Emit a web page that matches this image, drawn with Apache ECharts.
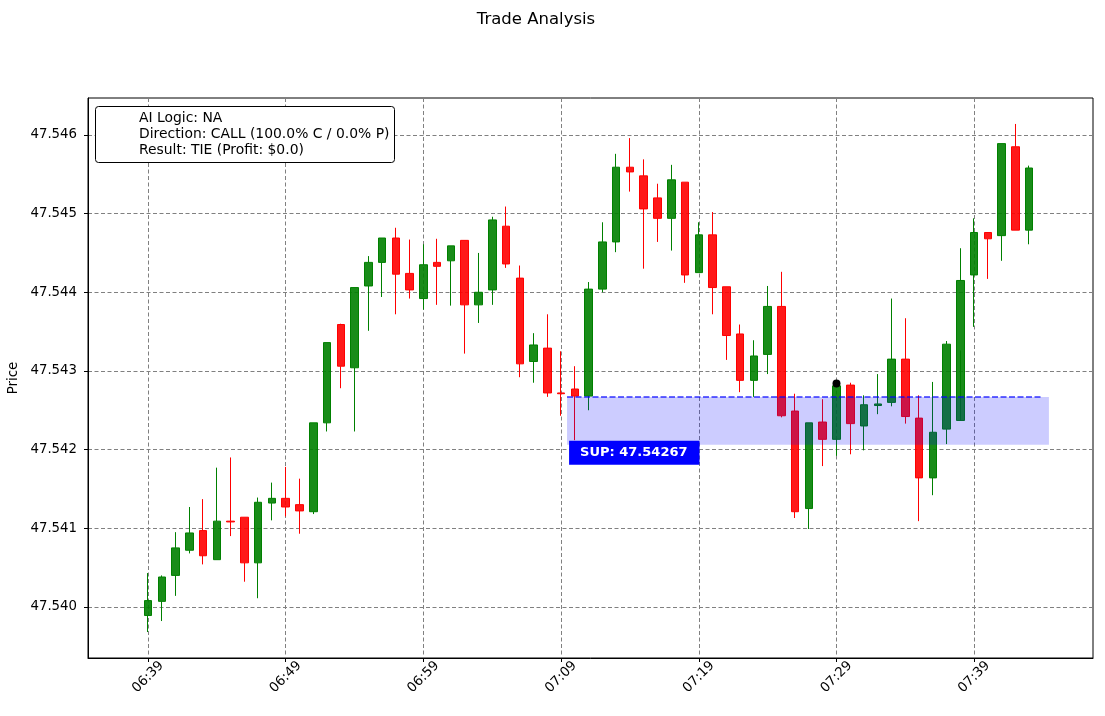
<!DOCTYPE html>
<html><head><meta charset="utf-8">
<script src="https://cdn.jsdelivr.net/npm/echarts@6/dist/echarts.min.js"></script>
<style>html,body{margin:0;padding:0;background:#fff}#c{width:1105px;height:716px}</style>
</head><body><div id="c"></div>
<script>
const startMinute = 6*60+39;
const opens  = [47.53989,47.54007,47.54040,47.54072,47.54097,47.54060,47.54109,47.54114,47.54056,47.54132,47.54138,47.54130,47.54121,47.54234,47.54359,47.54304,47.54408,47.54438,47.54469,47.54424,47.54392,47.54438,47.54440,47.54466,47.54384,47.54403,47.54484,47.54418,47.54312,47.54329,47.54272,47.54277,47.54268,47.54404,47.54464,47.54559,47.54548,47.54520,47.54494,47.54540,47.54425,47.54473,47.54407,47.54347,47.54288,47.54321,47.54382,47.54249,47.54125,47.54235,47.54213,47.54282,47.54230,47.54256,47.54260,47.54315,47.54240,47.54164,47.54226,47.54237,47.54422,47.54476,47.54472,47.54585,47.54479];
const closes = [47.54008,47.54038,47.54075,47.54094,47.54065,47.54109,47.54108,47.54056,47.54133,47.54138,47.54127,47.54122,47.54234,47.54336,47.54306,47.54406,47.54438,47.54469,47.54423,47.54403,47.54435,47.54433,47.54459,47.54384,47.54400,47.54492,47.54436,47.54309,47.54333,47.54272,47.54271,47.54268,47.54404,47.54464,47.54559,47.54553,47.54506,47.54494,47.54543,47.54422,47.54473,47.54406,47.54345,47.54288,47.54319,47.54382,47.54243,47.54121,47.54234,47.54213,47.54281,47.54233,47.54257,47.54258,47.54315,47.54242,47.54164,47.54222,47.54334,47.54415,47.54476,47.54468,47.54589,47.54479,47.54558];
const lows   = [47.53968,47.53982,47.54014,47.54068,47.54054,47.54060,47.54090,47.54032,47.54011,47.54110,47.54115,47.54093,47.54118,47.54223,47.54278,47.54223,47.54351,47.54394,47.54372,47.54392,47.54378,47.54384,47.54383,47.54322,47.54361,47.54384,47.54431,47.54292,47.54285,47.54267,47.54243,47.54212,47.54250,47.54400,47.54451,47.54528,47.54430,47.54464,47.54453,47.54412,47.54425,47.54372,47.54314,47.54273,47.54267,47.54296,47.54241,47.54113,47.54099,47.54179,47.54192,47.54194,47.54199,47.54245,47.54255,47.54233,47.54109,47.54142,47.54207,47.54326,47.54356,47.54417,47.54440,47.54479,47.54461];
const highs  = [47.54043,47.54040,47.54095,47.54127,47.54137,47.54177,47.54190,47.54114,47.54139,47.54158,47.54178,47.54163,47.54234,47.54336,47.54360,47.54406,47.54446,47.54469,47.54482,47.54467,47.54461,47.54468,47.54459,47.54466,47.54450,47.54496,47.54509,47.54434,47.54348,47.54372,47.54325,47.54306,47.54413,47.54489,47.54576,47.54596,47.54569,47.54538,47.54562,47.54540,47.54489,47.54502,47.54407,47.54359,47.54339,47.54408,47.54426,47.54271,47.54234,47.54264,47.54286,47.54285,47.54269,47.54296,47.54392,47.54367,47.54269,47.54286,47.54338,47.54456,47.54494,47.54476,47.54589,47.54614,47.54561];
const times = opens.map((_, i) => { const m = startMinute + i; return String(Math.floor(m/60)).padStart(2,'0') + ':' + String(m%60).padStart(2,'0'); });
const xTickIdx = [0,10,20,30,40,50,60];
const yTicks = [47.540,47.541,47.542,47.543,47.544,47.545,47.546];
const supLevel = 47.54267;
const zoneLow = 47.54206;
const zoneStart = 30.43, zoneEnd = 65.43, lineEnd = 65.0;
const entryIdx = 50, entryPrice = 47.54284;
const legendLines = ['AI Logic: NA','Direction: CALL (100.0% C / 0.0% P)','Result: TIE (Profit: $0.0)'];

const candleData = opens.map((o, i) => [i, o, closes[i], lows[i], highs[i]]);
const FONT = 'DejaVu Sans';
const chart = echarts.init(document.getElementById('c'));
chart.setOption({
  animation: false,
  backgroundColor: '#fff',
  title: { text: 'Trade Analysis', left: 531, top: 6, textAlign: 'center',
    textStyle: { fontFamily: FONT, fontSize: 16.5, fontWeight: 'normal', color: '#000' } },
  grid: { left: 88, right: 12, top: 98, bottom: 58, show: true, borderColor: '#000', borderWidth: 1,
    containLabel: false, outerBoundsMode: 'none' },
  xAxis: {
    type: 'value', min: -4.36, max: 68.63,
    axisLine: { show: true, onZero: false, lineStyle: { color: '#000' } },
    axisTick: { show: true, length: 4, customValues: xTickIdx, lineStyle: { color: '#000' } },
    axisLabel: { customValues: xTickIdx, rotate: 45, align: 'center', verticalAlign: 'middle', margin: 19,
      fontFamily: FONT, fontSize: 13.3, color: '#000', formatter: v => times[Math.round(v)] || '' },
    splitLine: { show: true, lineStyle: { color: '#808080', type: [4, 2.5], width: 1 } }
  },
  yAxis: {
    type: 'value', min: 47.53935, max: 47.54647, scale: true,
    name: 'Price', nameLocation: 'middle', nameGap: 66,
    nameTextStyle: { fontFamily: FONT, fontSize: 13.3, color: '#000' },
    axisLine: { show: true, onZero: false, lineStyle: { color: '#000' } },
    axisTick: { show: true, length: 4, customValues: yTicks, lineStyle: { color: '#000' } },
    axisLabel: { customValues: yTicks, fontFamily: FONT, fontSize: 13.3, color: '#000', margin: 11, formatter: v => v.toFixed(3) },
    splitLine: { show: true, lineStyle: { color: '#808080', type: [4, 2.5], width: 1 } }
  },
  series: [
    { type: 'candlestick', data: candleData, barWidth: 8, z: 2,
      encode: { x: 0, y: [1, 2, 3, 4] },
      itemStyle: { color: 'rgba(0,128,0,0.9)', color0: 'rgba(255,0,0,0.9)', borderColor: '#008000', borderColor0: '#ff0000', borderWidth: 1 } },
    { type: 'custom', z: 5, silent: true,
      data: [[zoneStart, zoneEnd, zoneLow, supLevel]],
      encode: { x: [0, 1], y: [2, 3] },
      renderItem: (params, api) => {
        const p0 = api.coord([api.value(0), api.value(3)]);
        const p1 = api.coord([api.value(1), api.value(2)]);
        return { type: 'rect', shape: { x: p0[0], y: p0[1], width: p1[0]-p0[0], height: p1[1]-p0[1] },
          style: { fill: 'rgba(0,0,255,0.2)' } };
      } },
    { type: 'line', z: 6, silent: true, symbol: 'none',
      data: [[zoneStart, supLevel], [lineEnd, supLevel]],
      lineStyle: { color: '#0000ff', width: 1.5, type: [6, 2.5], opacity: 0.8 } },
    { type: 'scatter', z: 7, silent: true, symbol: 'circle', symbolSize: 8,
      data: [[entryIdx, entryPrice]], itemStyle: { color: '#000', opacity: 1 } },
    { type: 'scatter', z: 8, silent: true, symbolSize: 0,
      data: [[zoneStart + 0.15, 47.54196]],
      itemStyle: { opacity: 1 },
      label: { show: true, position: 'right', distance: 0, formatter: 'SUP: ' + supLevel.toFixed(5),
        backgroundColor: '#0000ff', color: '#fff', fontFamily: FONT, fontWeight: 'bold', fontSize: 13,
        padding: [6, 12, 5, 11] } }
  ],
  graphic: [
    { type: 'rect', left: 95, top: 106, z: 100,
      shape: { width: 299, height: 56, r: 3 }, style: { fill: '#fff', stroke: '#000', lineWidth: 1 } },
    { type: 'text', left: 139, top: 110, z: 101,
      style: { text: legendLines.join('\n'), fontFamily: FONT, fontSize: 13.9, lineHeight: 16.2, fill: '#000' } }
  ]
});
</script></body></html>
